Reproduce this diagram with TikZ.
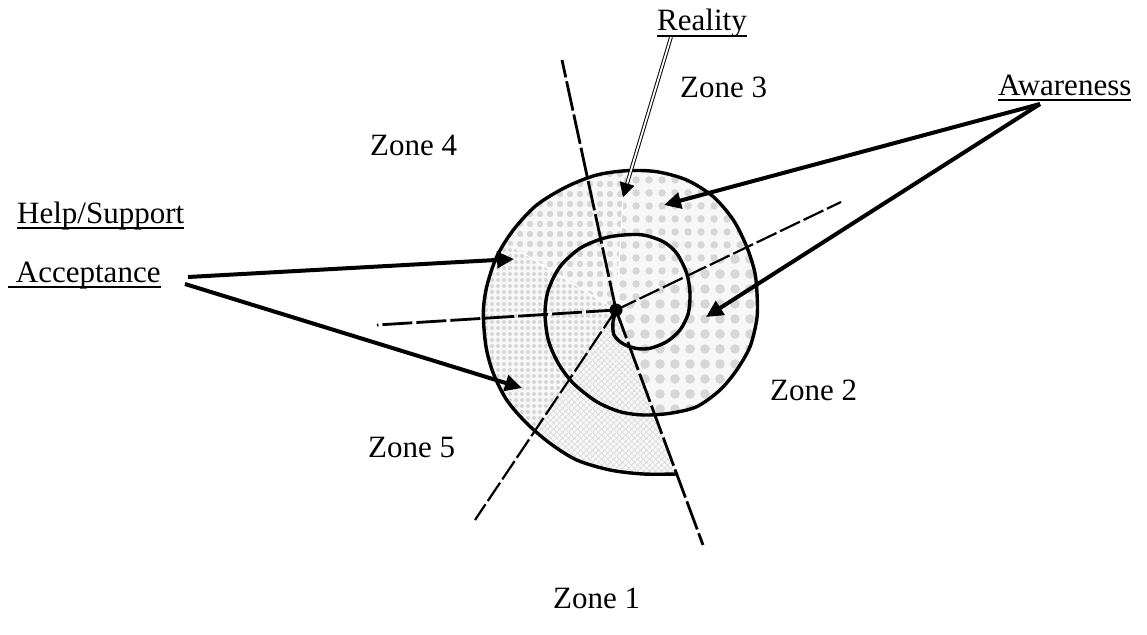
\documentclass[tikz,border=0pt]{standalone}
\usepackage{fontspec}
\setmainfont{Liberation Serif}
\usetikzlibrary{arrows.meta,patterns.meta,calc}
\newcommand\myul[1]{\setbox0\hbox{#1}\rlap{\rule[-6pt]{\wd0}{2.2pt}}\box0}
\begin{document}
\begin{tikzpicture}[x=1pt,y=-1pt,
  every node/.style={font=\fontsize{31}{36}\selectfont, inner sep=0pt, anchor=base west},
  spiralline/.style={line width=3.4pt, line cap=round, line join=round},
  rayline/.style={line width=2.8pt, dash pattern=on 30pt off 4pt},
  thinray/.style={line width=2.2pt, dash pattern=on 22pt off 4pt},
  bigarrow/.style={line width=4pt, -{Triangle[length=17pt,width=16pt]}},
  dblline/.style={double, double distance=1.8pt, line width=1pt},
  faint/.style={white, line width=1pt}]
\useasboundingbox (0,0) rectangle (1147,634);
\coordinate (c) at (616,310);
% rays end points
\coordinate (ra) at (562,60);
\coordinate (rb) at (703,545);
\coordinate (rc) at (377,325);
\coordinate (rd) at (841,202);
\coordinate (re) at (475,520);
\coordinate (w1) at (623,200);
\coordinate (w2) at (513,247);
% shaded region
\begin{scope}
\clip plot[smooth] coordinates {(655,415) (670,413.3) (696.7,406.7) (720,390) (736.7,370) (750,346.7) (756.7,320) (757.3,300) (755,273.3) (746.7,246.7) (733.3,220) (713.3,196.7) (686.7,180) (656.7,171.7) (626.7,170.7) (596.7,175) (566.7,186.7) (536.7,205) (513.3,230) (496.7,256.7) (486.7,286.7) (483.3,313.3) (486,346.7) (493.3,373.3) (506.7,400) (526.7,423.3) (550,443.3) (576.7,460) (610,470) (643.3,474) (676.7,474)} -- cycle;
\fill[gray!6] (400,100) rectangle (800,520);
\fill[pattern={Dots[distance=15pt,radius=4.8pt]}, pattern color=gray!32] (c) -- ++(-25.7:400) arc[start angle=-25.7, end angle=69.7, radius=400] -- cycle;
\fill[pattern={Dots[distance=13pt,radius=4pt]}, pattern color=gray!32] (c) -- ++(-86.4:400) arc[start angle=-86.4, end angle=-25.7, radius=400] -- cycle;
\fill[pattern={Dots[distance=10pt,radius=3.2pt]}, pattern color=gray!32] (c) -- ++(-148:400) arc[start angle=-148, end angle=-86.4, radius=400] -- cycle;
\fill[pattern={Dots[distance=6pt,radius=2pt]}, pattern color=gray!32] (c) -- ++(-236.1:400) arc[start angle=-236.1, end angle=-148, radius=400] -- cycle;
\fill[pattern={Hatch[distance=4pt,angle=45,line width=0.9pt]}, pattern color=gray!28] (c) -- ++(-290.3:400) arc[start angle=-290.3, end angle=-236.1, radius=400] -- cycle;
\draw[faint] (c) -- (w1);
\draw[faint] (c) -- (w2);
\end{scope}
% rays
\draw[rayline] (c) -- (ra);
\draw[rayline] (c) -- (rb);
\draw[rayline] (c) -- (rc);
\draw[thinray] (c) -- (rd);
\draw[thinray] (c) -- (re);
% spiral
\draw[spiralline] plot[smooth] coordinates {(616,310) (613,322) (614,335) (623.3,344) (636.7,348.5) (650,348.3) (666.7,341.7) (680,330) (688.3,313.3) (690,293.3) (686.7,273.3) (676.7,253.3) (663.3,241.7) (643.3,235) (623.3,235) (603.3,238.3) (580,248.3) (560,266.7) (548.3,290) (545,313.3) (548.3,340) (558.3,363.3) (573.3,383.3) (596.7,401.7) (620,411.7) (643.3,415) (670,413.3) (696.7,406.7) (720,390) (736.7,370) (750,346.7) (756.7,320) (757.3,300) (755,273.3) (746.7,246.7) (733.3,220) (713.3,196.7) (686.7,180) (656.7,171.7) (626.7,170.7) (596.7,175) (566.7,186.7) (536.7,205) (513.3,230) (496.7,256.7) (486.7,286.7) (483.3,313.3) (486,346.7) (493.3,373.3) (506.7,400) (526.7,423.3) (550,443.3) (576.7,460) (610,470) (643.3,474) (676.7,474)};
\fill (c) circle[radius=6.5pt];
% labels
\node (reality) at (657,31) {\myul{Reality}};
\node (zone3) at (680,97) {Zone 3};
\node (awareness) at (998,95) {\myul{Awareness}};
\node (zone4) at (370,155) {Zone 4};
\node (help) at (17,223) {\myul{Help/Support}};
\node (accept) at (8,282) {\myul{\ Acceptance}};
\node (zone2) at (770,400) {Zone 2};
\node (zone5) at (368,457) {Zone 5};
\node (zone1) at (553,608) {Zone 1};
% arrows
\coordinate (rs) at (671,37);
\coordinate (rt) at (623,197);
\draw[dblline, shorten >=11pt] (rs) -- (rt);
\draw[line width=0.5pt, -{Triangle[length=14pt,width=15pt]}] ($(rt)!14pt!(rs)$) -- (rt);
\coordinate (aws) at (1040,104);
\coordinate (awt1) at (664,205);
\coordinate (awt2) at (706,317);
\draw[bigarrow] (aws) -- (awt1);
\draw[bigarrow] (aws) -- (awt2);
\coordinate (acs1) at (188,277);
\coordinate (acs2) at (185,284);
\coordinate (act1) at (514,259);
\coordinate (act2) at (522,388);
\draw[bigarrow] (acs1) -- (act1);
\draw[bigarrow] (acs2) -- (act2);
\end{tikzpicture}
\end{document}
